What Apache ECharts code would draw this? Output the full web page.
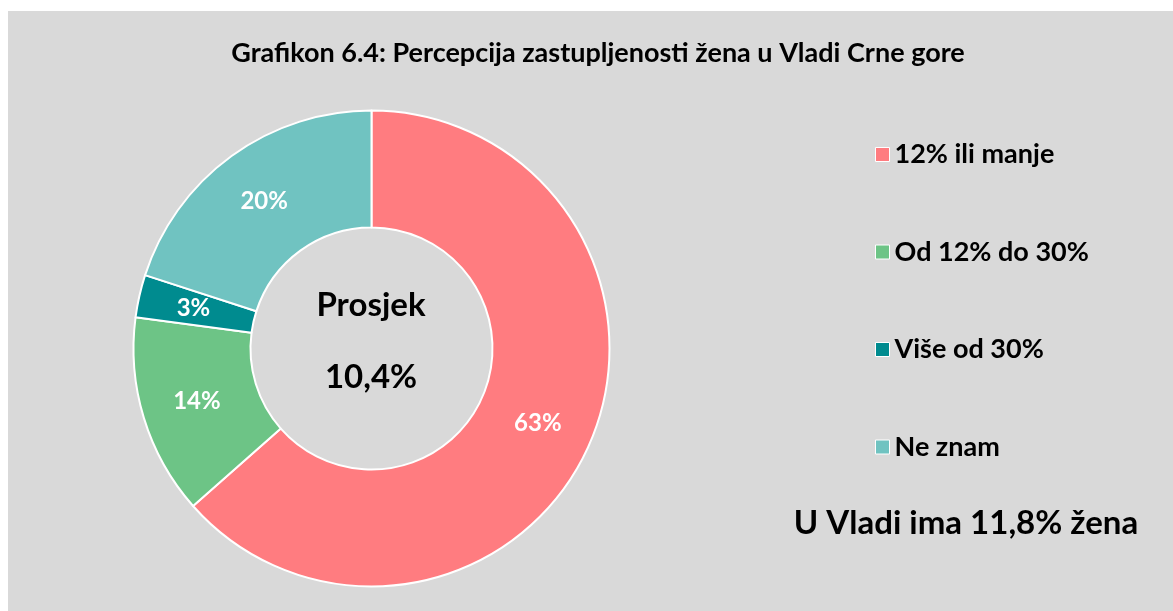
<!DOCTYPE html>
<html>
<head>
<meta charset="utf-8">
<script src="https://cdn.jsdelivr.net/npm/echarts@6/dist/echarts.min.js"></script>
<style>
  html, body { margin: 0; padding: 0; background: #ffffff; }
  #chart { position: absolute; left: 8px; top: 11px; width: 1165px; height: 600px; background: #d9d9d9; }
</style>
</head>
<body>
<div id="chart"></div>
<script>
// data
const categories = ['12% ili manje', 'Od 12% do 30%', 'Više od 30%', 'Ne znam'];
const shares = [63.49, 13.6, 2.9, 20.01];
const colors = ['#ff7c80', '#6dc486', '#008b8f', '#70c3c1'];
const titleText = 'Grafikon 6.4: Percepcija zastupljenosti žena u Vladi Crne gore';
const centerLabel = 'Prosjek';
const centerValue = '10,4%';
const noteText = 'U Vladi ima 11,8% žena';

const FONT = 'Lato';

const chart = echarts.init(document.getElementById('chart'));

var option = {
  backgroundColor: 'transparent',
  animation: false,
  color: colors,
  legend: {
    orient: 'vertical',
    left: 862,
    top: 125,
    itemWidth: 14,
    itemHeight: 14,
    itemGap: 70.5,
    itemTextGap: 13,
    icon: 'rect',
    itemStyle: { borderColor: '#ffffff', borderWidth: 1 },
    textStyle: { fontFamily: FONT, fontWeight: 'bold', fontSize: 27, color: '#000', lineHeight: 27 },
    data: categories
  },
  graphic: [
    {
      type: 'text', x: 590, y: 42,
      style: { text: titleText, align: 'center', verticalAlign: 'middle',
        font: 'bold 27px ' + FONT, fill: '#000' }
    },
    {
      type: 'text', x: 363, y: 294,
      style: { text: centerLabel, align: 'center', verticalAlign: 'middle',
        font: 'bold 33px ' + FONT, fill: '#000' }
    },
    {
      type: 'text', x: 363, y: 366,
      style: { text: centerValue, align: 'center', verticalAlign: 'middle',
        font: 'bold 33px ' + FONT, fill: '#000' }
    },
    {
      type: 'text', x: 958, y: 512,
      style: { text: noteText, align: 'center', verticalAlign: 'middle',
        font: 'bold 33px ' + FONT, fill: '#000' }
    }
  ],
  series: [
    {
      type: 'pie',
      center: [363.5, 337.5],
      radius: [121, 238],
      startAngle: 90,
      clockwise: true,
      avoidLabelOverlap: false,
      itemStyle: { borderColor: '#ffffff', borderWidth: 2 },
      label: {
        show: true,
        position: 'inside',
        color: '#ffffff',
        fontFamily: FONT,
        fontWeight: 'bold',
        fontSize: 24,
        formatter: function (p) { return Math.round(p.value) + '%'; }
      },
      labelLine: { show: false },
      emphasis: { disabled: true },
      data: categories.map(function (name, i) { return { name: name, value: shares[i] }; })
    }
  ]
};

chart.setOption(option);
</script>
</body>
</html>
